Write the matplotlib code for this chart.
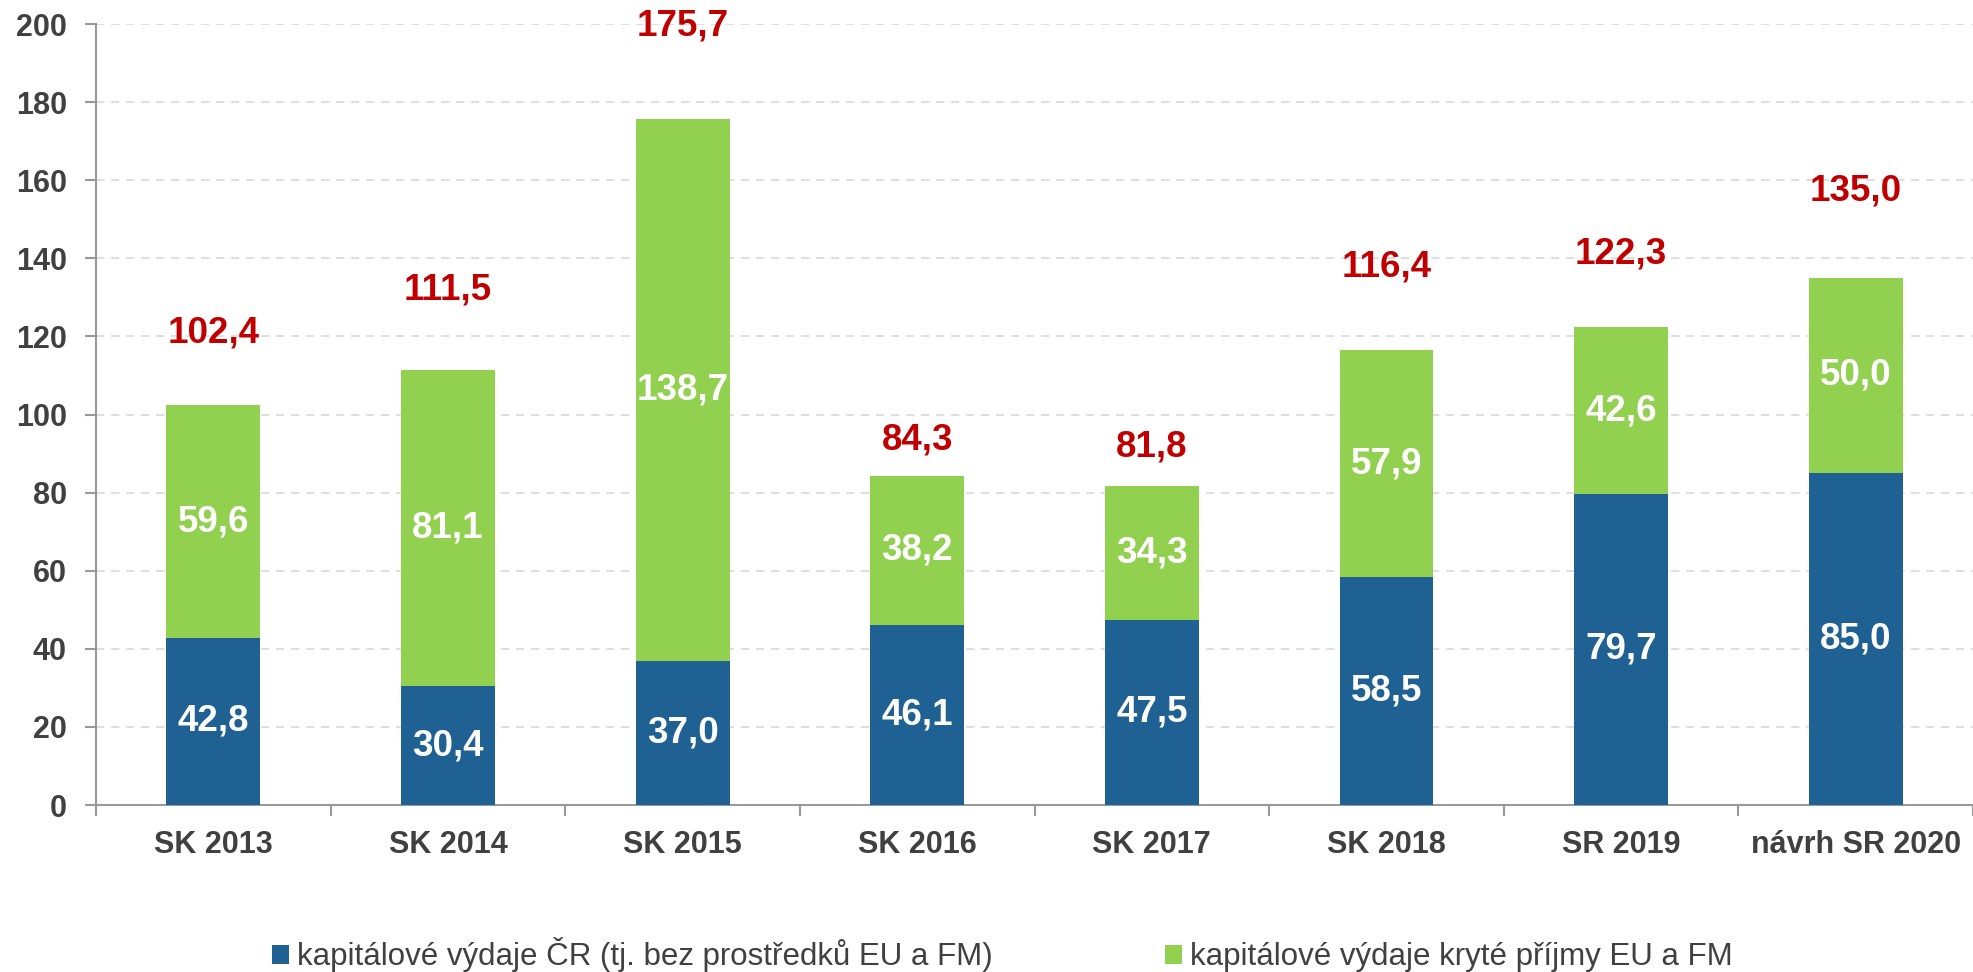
import numpy as np
import matplotlib.pyplot as plt

plt.rcParams['font.family'] = ['Liberation Sans', 'DejaVu Sans']

# data
categories = ['SK 2013', 'SK 2014', 'SK 2015', 'SK 2016', 'SK 2017', 'SK 2018', 'SR 2019', 'návrh SR 2020']
domestic = [42.8, 30.4, 37.0, 46.1, 47.5, 58.5, 79.7, 85.0]
eu_funded = [59.6, 81.1, 138.7, 38.2, 34.3, 57.9, 42.6, 50.0]
totals = [102.4, 111.5, 175.7, 84.3, 81.8, 116.4, 122.3, 135.0]
# where the red totals sit (placed by hand in the original)
total_label_y = [120.8, 132.0, 199.4, 93.4, 91.8, 137.8, 141.1, 157.2]

labels = ['kapitálové výdaje ČR (tj. bez prostředků EU a FM)',
          'kapitálové výdaje kryté příjmy EU a FM']

blue = '#1F6192'
green = '#92D050'
red = '#C00000'
grey = '#999999'

fig = plt.figure(figsize=(19.73, 9.72), dpi=100)
ax = fig.add_axes([0.0487, 0.1718, 0.9513, 0.8035])

x = np.arange(len(categories))
w = 0.4
b1 = ax.bar(x, domestic, w, color=blue, label=labels[0], zorder=3)
b2 = ax.bar(x, eu_funded, w, bottom=domestic, color=green, label=labels[1], zorder=3)

fmt = lambda v: f'{v:.1f}'.replace('.', ',')
for i in range(len(x)):
    ax.text(x[i], domestic[i] / 2, fmt(domestic[i]), ha='center', va='center',
            color='white', fontsize=26.5, fontweight='bold', zorder=4)
    ax.text(x[i], domestic[i] + eu_funded[i] / 2, fmt(eu_funded[i]), ha='center', va='center',
            color='white', fontsize=26.5, fontweight='bold', zorder=4)
    ax.text(x[i], total_label_y[i], fmt(totals[i]), ha='center', va='center',
            color=red, fontsize=26.5, fontweight='bold', zorder=4)

ax.set_xlim(-0.5, len(x) - 0.5)
ax.set_ylim(0, 200)
ax.set_yticks(np.arange(0, 201, 20))
ax.yaxis.grid(True, linestyle=(0, (5, 4)), color='#d9d9d9', linewidth=1.2, zorder=0)
ax.set_axisbelow(True)

ax.set_xticks(x)
ax.set_xticklabels(categories)
ax.set_xticks(np.arange(-0.5, len(x), 1), minor=True)
ax.tick_params(axis='x', which='major', length=0, pad=18, labelsize=22, labelcolor='#404040')
ax.tick_params(axis='x', which='minor', length=8, width=1.5, color=grey)
ax.tick_params(axis='y', length=8, width=1.5, color=grey, labelsize=22, labelcolor='#404040', pad=13)
for t in ax.get_xticklabels() + ax.get_yticklabels():
    t.set_fontweight('bold')

for s in ['top', 'right']:
    ax.spines[s].set_visible(False)
for s in ['left', 'bottom']:
    ax.spines[s].set_color(grey)
    ax.spines[s].set_linewidth(1.5)

fig.legend(handles=[b1, b2], labels=labels, loc='center', bbox_to_anchor=(0.508, 0.0175),
           ncol=2, frameon=False, fontsize=22.5, handlelength=0.55, handleheight=0.55,
           handletextpad=0.25, columnspacing=5.5, labelcolor='#404040')

fig.savefig('out.png', dpi=100)
